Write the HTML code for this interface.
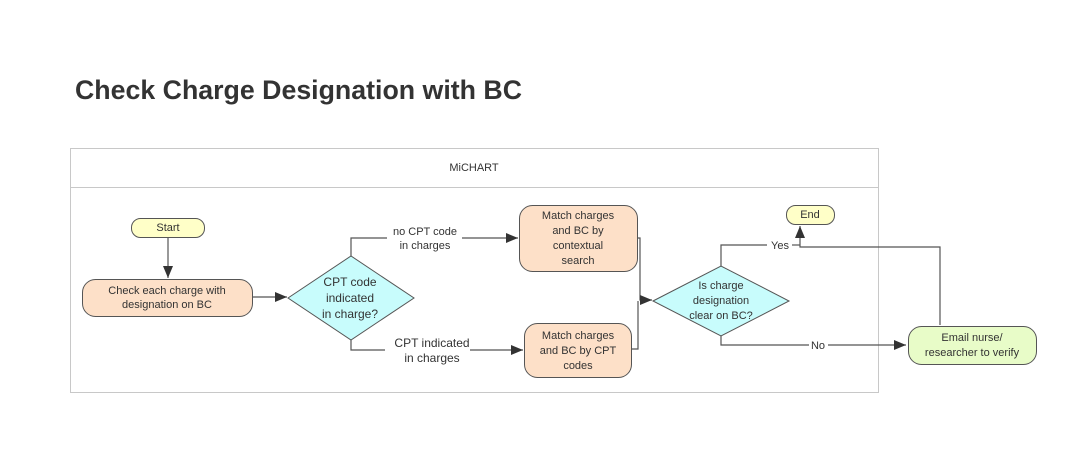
<!DOCTYPE html>
<html><head><meta charset="utf-8"><style>body{margin:0;background:#fff;overflow:hidden}</style></head><body>
<svg width="1087" height="445" viewBox="0 0 1087 445" xmlns="http://www.w3.org/2000/svg" font-family="Liberation Sans, sans-serif">
<defs><marker id="a" markerWidth="12" markerHeight="10" refX="12" refY="5" orient="auto" markerUnits="userSpaceOnUse"><path d="M0,0 L12,5 L0,10 z" fill="#333"/></marker></defs>
<text x="75" y="99" font-size="26.5" font-weight="bold" fill="#333" textLength="447" lengthAdjust="spacingAndGlyphs">Check Charge Designation with BC</text>
<rect x="70.5" y="148.5" width="808" height="244" fill="#fff" stroke="#c8c8c8"/>
<line x1="70" y1="187.5" x2="879" y2="187.5" stroke="#c8c8c8"/>
<text x="474" y="171" font-size="11" text-anchor="middle" fill="#333">MiCHART</text>
<g stroke="#555" stroke-width="1.2" fill="none">
<line x1="168" y1="237" x2="168" y2="278" marker-end="url(#a)"/>
<line x1="253" y1="297" x2="287" y2="297" marker-end="url(#a)"/>
<polyline points="351,256 351,238 387,238"/><polyline points="462,238 518,238" marker-end="url(#a)"/>
<polyline points="351,340 351,350 385,350"/><polyline points="470,350 523,350" marker-end="url(#a)"/>
<polyline points="637,238 640,238 640,300 652,300" marker-end="url(#a)"/>
<polyline points="631,349 638,349 638,301"/>
<polyline points="721,266 721,245 767,245"/><line x1="792" y1="245" x2="800" y2="245"/>
<polyline points="940,325 940,247 800,247 800,226" marker-end="url(#a)"/>
<polyline points="721,336 721,345 809,345"/><polyline points="828,345 906,345" marker-end="url(#a)"/>
</g>
<g stroke="#555" stroke-width="1">
<rect x="131.5" y="218.5" width="73" height="19" rx="9" fill="#ffffc8"/>
<rect x="82.5" y="279.5" width="170" height="37" rx="13" fill="#fde0c8"/>
<polygon points="288,298 351,256 414,298 351,340" fill="#c8fcfc"/>
<rect x="519.5" y="205.5" width="118" height="66" rx="13" fill="#fde0c8"/>
<rect x="524.5" y="323.5" width="107" height="54" rx="13" fill="#fde0c8"/>
<polygon points="653,301 721,266 789,301 721,336" fill="#c8fcfc"/>
<rect x="786.5" y="205.5" width="48" height="19" rx="9" fill="#ffffc8"/>
<rect x="908.5" y="326.5" width="128" height="38" rx="13" fill="#e8fcc8"/>
</g>
<g fill="#333" font-size="11" text-anchor="middle">
<text x="168" y="231">Start</text>
<text x="167" y="294">Check each charge with</text><text x="167" y="308">designation on BC</text>
<text x="350" y="286" font-size="12">CPT code</text><text x="350" y="302" font-size="12">indicated</text><text x="350" y="318" font-size="12">in charge?</text>
<text x="425" y="235">no CPT code</text><text x="425" y="249">in charges</text>
<text x="432" y="347" font-size="12">CPT indicated</text><text x="432" y="362" font-size="12">in charges</text>
<text x="578" y="219">Match charges</text><text x="578" y="234">and BC by</text><text x="578" y="249">contextual</text><text x="578" y="264">search</text>
<text x="578" y="339">Match charges</text><text x="578" y="354">and BC by CPT</text><text x="578" y="369">codes</text>
<text x="721" y="289">Is charge</text><text x="721" y="304">designation</text><text x="721" y="319">clear on BC?</text>
<text x="780" y="249">Yes</text>
<text x="818" y="349">No</text>
<text x="810" y="218">End</text>
<text x="972" y="341">Email nurse/</text><text x="972" y="356">researcher to verify</text>
</g>
</svg>
</body></html>
